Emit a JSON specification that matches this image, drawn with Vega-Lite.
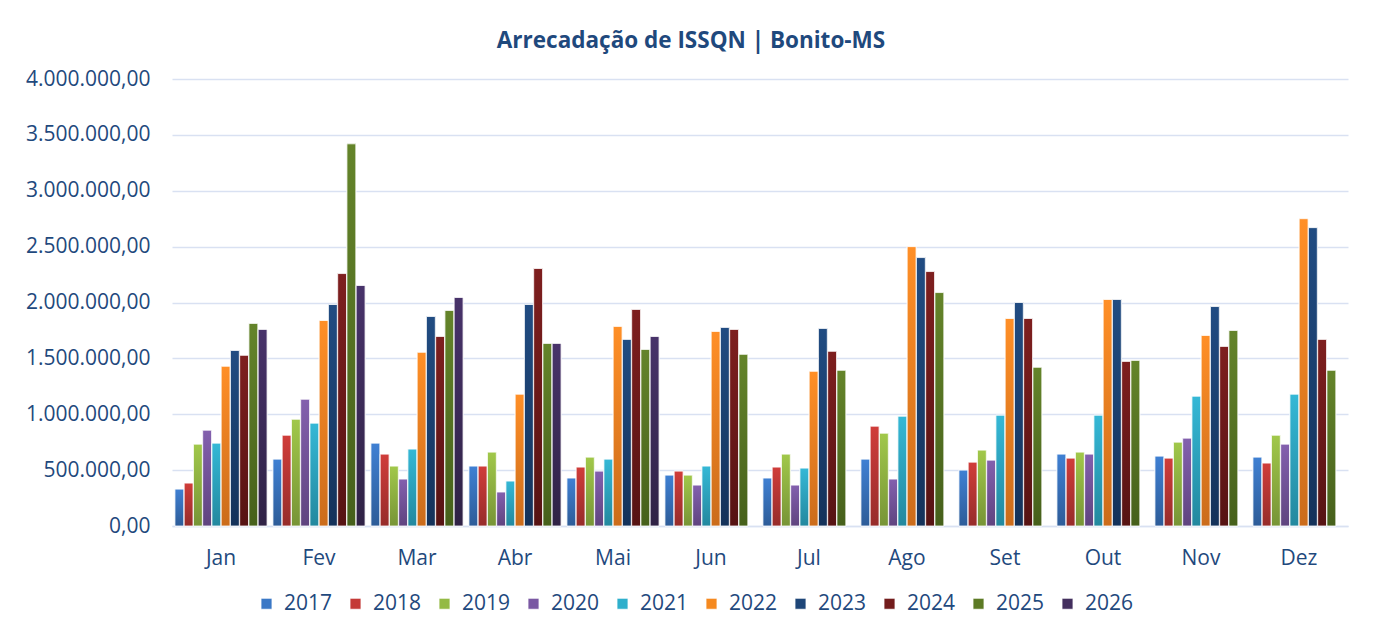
{
  "$schema": "https://vega.github.io/schema/vega-lite/v6.json",
  "width": 1176,
  "height": 447,
  "autosize": {"type": "none"},
  "padding": {"left": 172, "top": 79, "right": 31, "bottom": 113},
  "background": "white",
  "config": {
    "locale": {"number": {"decimal": ",", "thousands": ".", "grouping": [3], "currency": ["R$ ", ""]}},
    "font": "Open Sans",
    "view": {"stroke": null},
    "bar": {"stroke": "white", "strokeWidth": 0.8}
  },
  "title": {
    "text": "Arrecadação de ISSQN | Bonito-MS",
    "font": "Open Sans",
    "fontSize": 22.5,
    "fontWeight": "bold",
    "color": "#1F497D",
    "anchor": "middle",
    "dx": -69,
    "offset": 16
  },
  "data": {
    "values": [
      {"mes": "Jan", "ano": "2017", "valor": 330000}, {"mes": "Jan", "ano": "2018", "valor": 384000}, {"mes": "Jan", "ano": "2019", "valor": 732000}, {"mes": "Jan", "ano": "2020", "valor": 857000}, {"mes": "Jan", "ano": "2021", "valor": 741000}, {"mes": "Jan", "ano": "2022", "valor": 1429000}, {"mes": "Jan", "ano": "2023", "valor": 1571000}, {"mes": "Jan", "ano": "2024", "valor": 1527000}, {"mes": "Jan", "ano": "2025", "valor": 1813000}, {"mes": "Jan", "ano": "2026", "valor": 1759000},
      {"mes": "Fev", "ano": "2017", "valor": 598000}, {"mes": "Fev", "ano": "2018", "valor": 812000}, {"mes": "Fev", "ano": "2019", "valor": 955000}, {"mes": "Fev", "ano": "2020", "valor": 1134000}, {"mes": "Fev", "ano": "2021", "valor": 920000}, {"mes": "Fev", "ano": "2022", "valor": 1839000}, {"mes": "Fev", "ano": "2023", "valor": 1982000}, {"mes": "Fev", "ano": "2024", "valor": 2259000}, {"mes": "Fev", "ano": "2025", "valor": 3420000}, {"mes": "Fev", "ano": "2026", "valor": 2152000},
      {"mes": "Mar", "ano": "2017", "valor": 741000}, {"mes": "Mar", "ano": "2018", "valor": 643000}, {"mes": "Mar", "ano": "2019", "valor": 536000}, {"mes": "Mar", "ano": "2020", "valor": 420000}, {"mes": "Mar", "ano": "2021", "valor": 688000}, {"mes": "Mar", "ano": "2022", "valor": 1554000}, {"mes": "Mar", "ano": "2023", "valor": 1875000}, {"mes": "Mar", "ano": "2024", "valor": 1696000}, {"mes": "Mar", "ano": "2025", "valor": 1929000}, {"mes": "Mar", "ano": "2026", "valor": 2045000},
      {"mes": "Abr", "ano": "2017", "valor": 536000}, {"mes": "Abr", "ano": "2018", "valor": 536000}, {"mes": "Abr", "ano": "2019", "valor": 661000}, {"mes": "Abr", "ano": "2020", "valor": 304000}, {"mes": "Abr", "ano": "2021", "valor": 402000}, {"mes": "Abr", "ano": "2022", "valor": 1179000}, {"mes": "Abr", "ano": "2023", "valor": 1982000}, {"mes": "Abr", "ano": "2024", "valor": 2304000}, {"mes": "Abr", "ano": "2025", "valor": 1634000}, {"mes": "Abr", "ano": "2026", "valor": 1634000},
      {"mes": "Mai", "ano": "2017", "valor": 429000}, {"mes": "Mai", "ano": "2018", "valor": 527000}, {"mes": "Mai", "ano": "2019", "valor": 616000}, {"mes": "Mai", "ano": "2020", "valor": 491000}, {"mes": "Mai", "ano": "2021", "valor": 598000}, {"mes": "Mai", "ano": "2022", "valor": 1786000}, {"mes": "Mai", "ano": "2023", "valor": 1670000}, {"mes": "Mai", "ano": "2024", "valor": 1938000}, {"mes": "Mai", "ano": "2025", "valor": 1580000}, {"mes": "Mai", "ano": "2026", "valor": 1696000},
      {"mes": "Jun", "ano": "2017", "valor": 455000}, {"mes": "Jun", "ano": "2018", "valor": 491000}, {"mes": "Jun", "ano": "2019", "valor": 455000}, {"mes": "Jun", "ano": "2020", "valor": 366000}, {"mes": "Jun", "ano": "2021", "valor": 536000}, {"mes": "Jun", "ano": "2022", "valor": 1741000}, {"mes": "Jun", "ano": "2023", "valor": 1777000}, {"mes": "Jun", "ano": "2024", "valor": 1759000}, {"mes": "Jun", "ano": "2025", "valor": 1536000},
      {"mes": "Jul", "ano": "2017", "valor": 429000}, {"mes": "Jul", "ano": "2018", "valor": 527000}, {"mes": "Jul", "ano": "2019", "valor": 643000}, {"mes": "Jul", "ano": "2020", "valor": 366000}, {"mes": "Jul", "ano": "2021", "valor": 518000}, {"mes": "Jul", "ano": "2022", "valor": 1384000}, {"mes": "Jul", "ano": "2023", "valor": 1768000}, {"mes": "Jul", "ano": "2024", "valor": 1563000}, {"mes": "Jul", "ano": "2025", "valor": 1393000},
      {"mes": "Ago", "ano": "2017", "valor": 598000}, {"mes": "Ago", "ano": "2018", "valor": 893000}, {"mes": "Ago", "ano": "2019", "valor": 830000}, {"mes": "Ago", "ano": "2020", "valor": 420000}, {"mes": "Ago", "ano": "2021", "valor": 982000}, {"mes": "Ago", "ano": "2022", "valor": 2500000}, {"mes": "Ago", "ano": "2023", "valor": 2402000}, {"mes": "Ago", "ano": "2024", "valor": 2277000}, {"mes": "Ago", "ano": "2025", "valor": 2089000},
      {"mes": "Set", "ano": "2017", "valor": 500000}, {"mes": "Set", "ano": "2018", "valor": 571000}, {"mes": "Set", "ano": "2019", "valor": 679000}, {"mes": "Set", "ano": "2020", "valor": 589000}, {"mes": "Set", "ano": "2021", "valor": 991000}, {"mes": "Set", "ano": "2022", "valor": 1857000}, {"mes": "Set", "ano": "2023", "valor": 2000000}, {"mes": "Set", "ano": "2024", "valor": 1857000}, {"mes": "Set", "ano": "2025", "valor": 1420000},
      {"mes": "Out", "ano": "2017", "valor": 643000}, {"mes": "Out", "ano": "2018", "valor": 607000}, {"mes": "Out", "ano": "2019", "valor": 661000}, {"mes": "Out", "ano": "2020", "valor": 643000}, {"mes": "Out", "ano": "2021", "valor": 991000}, {"mes": "Out", "ano": "2022", "valor": 2027000}, {"mes": "Out", "ano": "2023", "valor": 2027000}, {"mes": "Out", "ano": "2024", "valor": 1473000}, {"mes": "Out", "ano": "2025", "valor": 1482000},
      {"mes": "Nov", "ano": "2017", "valor": 625000}, {"mes": "Nov", "ano": "2018", "valor": 607000}, {"mes": "Nov", "ano": "2019", "valor": 750000}, {"mes": "Nov", "ano": "2020", "valor": 786000}, {"mes": "Nov", "ano": "2021", "valor": 1161000}, {"mes": "Nov", "ano": "2022", "valor": 1705000}, {"mes": "Nov", "ano": "2023", "valor": 1964000}, {"mes": "Nov", "ano": "2024", "valor": 1607000}, {"mes": "Nov", "ano": "2025", "valor": 1750000},
      {"mes": "Dez", "ano": "2017", "valor": 616000}, {"mes": "Dez", "ano": "2018", "valor": 563000}, {"mes": "Dez", "ano": "2019", "valor": 812000}, {"mes": "Dez", "ano": "2020", "valor": 732000}, {"mes": "Dez", "ano": "2021", "valor": 1179000}, {"mes": "Dez", "ano": "2022", "valor": 2750000}, {"mes": "Dez", "ano": "2023", "valor": 2670000}, {"mes": "Dez", "ano": "2024", "valor": 1670000}, {"mes": "Dez", "ano": "2025", "valor": 1393000}
    ]
  },
  "encoding": {
    "x": {
      "field": "mes",
      "type": "nominal",
      "sort": ["Jan", "Fev", "Mar", "Abr", "Mai", "Jun", "Jul", "Ago", "Set", "Out", "Nov", "Dez"],
      "scale": {"paddingInner": 0.06, "paddingOuter": 0.03},
      "axis": {
        "title": null,
        "labelAngle": 0,
        "labelFont": "Open Sans",
        "labelFontSize": 21,
        "labelColor": "#1F497D",
        "labelPadding": 21,
        "ticks": false,
        "domainColor": "#D9E1F2",
        "domainWidth": 1.5
      }
    },
    "xOffset": {
      "field": "ano",
      "type": "nominal",
      "scale": {"domain": ["2017", "2018", "2019", "2020", "2021", "2022", "2023", "2024", "2025", "2026"], "paddingInner": 0.04}
    },
    "y": {
      "field": "valor",
      "type": "quantitative",
      "scale": {"domain": [0, 4000000], "nice": false},
      "axis": {
        "title": null,
        "values": [0, 500000, 1000000, 1500000, 2000000, 2500000, 3000000, 3500000, 4000000],
        "format": ",.2f",
        "labelFont": "Open Sans",
        "labelFontSize": 21,
        "labelColor": "#1F497D",
        "labelPadding": 22,
        "ticks": false,
        "domain": false,
        "gridColor": "#D9E1F2",
        "gridWidth": 1.5
      }
    }
  },
  "layer": [
    {
      "mark": {"type": "bar"},
      "encoding": {
        "color": {
          "field": "ano",
          "type": "nominal",
          "scale": {
            "domain": ["2017", "2018", "2019", "2020", "2021", "2022", "2023", "2024", "2025", "2026"],
            "range": ["#3A78C6", "#C43A37", "#94BA45", "#7A58A3", "#2EAFCC", "#F5891F", "#1E4678", "#731C1C", "#5C7A24", "#432F5E"]
          },
          "legend": {
            "title": null,
            "orient": "none",
            "legendX": 84,
            "legendY": 514,
            "direction": "horizontal",
            "columns": 10,
            "symbolType": "square",
            "symbolSize": 121,
            "symbolStrokeWidth": 0,
            "labelFont": "Open Sans",
            "labelFontSize": 21,
            "labelColor": "#1F497D",
            "labelOffset": 7,
            "columnPadding": 12
          }
        }
      }
    },
    {"transform": [{"filter": "datum.ano == '2017'"}], "mark": {"type": "bar", "color": {"gradient": "linear", "x1": 0, "y1": 0, "x2": 0, "y2": 1, "stops": [{"offset": 0, "color": "#3F80D3"}, {"offset": 1, "color": "#2D5C98"}]}}},
    {"transform": [{"filter": "datum.ano == '2018'"}], "mark": {"type": "bar", "color": {"gradient": "linear", "x1": 0, "y1": 0, "x2": 0, "y2": 1, "stops": [{"offset": 0, "color": "#D03D3A"}, {"offset": 1, "color": "#962C2A"}]}}},
    {"transform": [{"filter": "datum.ano == '2019'"}], "mark": {"type": "bar", "color": {"gradient": "linear", "x1": 0, "y1": 0, "x2": 0, "y2": 1, "stops": [{"offset": 0, "color": "#A1C84A"}, {"offset": 1, "color": "#779436"}]}}},
    {"transform": [{"filter": "datum.ano == '2020'"}], "mark": {"type": "bar", "color": {"gradient": "linear", "x1": 0, "y1": 0, "x2": 0, "y2": 1, "stops": [{"offset": 0, "color": "#8360AE"}, {"offset": 1, "color": "#5F447F"}]}}},
    {"transform": [{"filter": "datum.ano == '2021'"}], "mark": {"type": "bar", "color": {"gradient": "linear", "x1": 0, "y1": 0, "x2": 0, "y2": 1, "stops": [{"offset": 0, "color": "#35B8D6"}, {"offset": 1, "color": "#23889E"}]}}},
    {"transform": [{"filter": "datum.ano == '2022'"}], "mark": {"type": "bar", "color": {"gradient": "linear", "x1": 0, "y1": 0, "x2": 0, "y2": 1, "stops": [{"offset": 0, "color": "#FF8F27"}, {"offset": 1, "color": "#CB6C1B"}]}}},
    {"transform": [{"filter": "datum.ano == '2023'"}], "mark": {"type": "bar", "color": {"gradient": "linear", "x1": 0, "y1": 0, "x2": 0, "y2": 1, "stops": [{"offset": 0, "color": "#214C82"}, {"offset": 1, "color": "#14325A"}]}}},
    {"transform": [{"filter": "datum.ano == '2024'"}], "mark": {"type": "bar", "color": {"gradient": "linear", "x1": 0, "y1": 0, "x2": 0, "y2": 1, "stops": [{"offset": 0, "color": "#7E1F1F"}, {"offset": 1, "color": "#561313"}]}}},
    {"transform": [{"filter": "datum.ano == '2025'"}], "mark": {"type": "bar", "color": {"gradient": "linear", "x1": 0, "y1": 0, "x2": 0, "y2": 1, "stops": [{"offset": 0, "color": "#64842A"}, {"offset": 1, "color": "#46601B"}]}}},
    {"transform": [{"filter": "datum.ano == '2026'"}], "mark": {"type": "bar", "color": {"gradient": "linear", "x1": 0, "y1": 0, "x2": 0, "y2": 1, "stops": [{"offset": 0, "color": "#48336A"}, {"offset": 1, "color": "#2F2245"}]}}}
  ]
}
